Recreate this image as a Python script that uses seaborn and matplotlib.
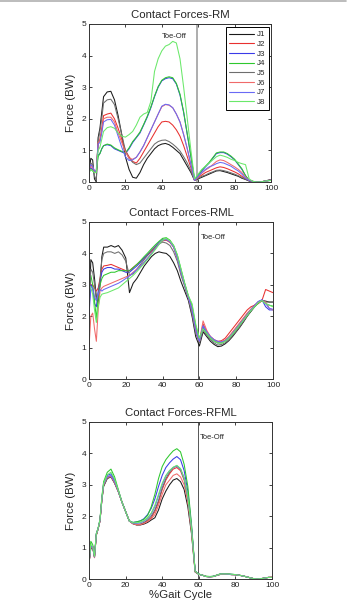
import numpy as np
import pandas as pd
import matplotlib.pyplot as plt
import seaborn as sns
from matplotlib.lines import Line2D

# % gait cycle sample positions (shared by every curve)
gait = [0, 1, 2, 3, 4, 5, 6, 7, 8,
        10, 12, 14, 16, 18, 20,
        22, 24, 26, 28, 30, 32, 34, 36, 38, 40,
        42, 44, 46, 48, 50, 52, 54, 56, 58, 60,
        62, 64, 66, 68, 70, 72, 74, 76, 78, 80,
        82, 84, 86, 88, 90, 92, 94, 96, 98, 100]

joints = ['J1', 'J2', 'J3', 'J4', 'J5', 'J6', 'J7', 'J8']
joint_colors = ['#1a1a1a', '#e8302f', '#3a3ae8', '#2ec82e',
                '#6e6e6e', '#f06a6a', '#6a6af5', '#6ae86a']

# ---- Contact Forces-RM ----
rm_j1 = [0.30, 0.75, 0.70, 0.10, 0.00, 1.40, 1.70, 2.20, 2.70,
         2.85, 2.87, 2.60, 2.10, 1.50, 0.80,
         0.40, 0.15, 0.12, 0.30, 0.55, 0.75, 0.90, 1.05, 1.15, 1.20,
         1.22, 1.18, 1.10, 1.00, 0.90, 0.70, 0.50, 0.30, 0.05, 0.10,
         0.15, 0.20, 0.25, 0.30, 0.35, 0.36, 0.33, 0.30, 0.26, 0.22,
         0.18, 0.12, 0.08, 0.03, 0.00, 0.00, 0.00, 0.02, 0.05, 0.08]
rm_j2 = [0.35, 0.55, 0.50, 0.30, 0.30, 1.20, 1.35, 1.70, 2.10,
         2.15, 2.18, 2.00, 1.70, 1.35, 1.00,
         0.80, 0.65, 0.60, 0.75, 0.95, 1.15, 1.35, 1.55, 1.75, 1.90,
         1.92, 1.90, 1.80, 1.65, 1.45, 1.15, 0.80, 0.45, 0.05, 0.15,
         0.22, 0.30, 0.35, 0.40, 0.45, 0.48, 0.46, 0.42, 0.37, 0.32,
         0.26, 0.18, 0.10, 0.05, 0.02, 0.00, 0.00, 0.02, 0.04, 0.06]
rm_j3 = [0.30, 0.45, 0.40, 0.30, 0.35, 0.85, 0.90, 1.05, 1.15,
         1.18, 1.15, 1.05, 1.00, 0.95, 0.90,
         1.05, 1.25, 1.40, 1.55, 1.80, 2.05, 2.35, 2.70, 3.00, 3.20,
         3.27, 3.30, 3.27, 3.10, 2.75, 2.20, 1.50, 0.80, 0.08, 0.20,
         0.35, 0.48, 0.60, 0.75, 0.90, 0.93, 0.93, 0.88, 0.80, 0.70,
         0.55, 0.40, 0.20, 0.05, 0.02, 0.00, 0.00, 0.02, 0.04, 0.05]
rm_j4 = [0.30, 0.40, 0.35, 0.30, 0.30, 0.80, 0.90, 1.05, 1.15,
         1.20, 1.17, 1.08, 1.02, 0.97, 0.92,
         1.08, 1.28, 1.42, 1.58, 1.82, 2.08, 2.38, 2.72, 3.02, 3.22,
         3.30, 3.33, 3.30, 3.12, 2.78, 2.22, 1.52, 0.82, 0.08, 0.22,
         0.38, 0.50, 0.62, 0.77, 0.92, 0.95, 0.95, 0.90, 0.82, 0.72,
         0.57, 0.42, 0.20, 0.05, 0.02, 0.00, 0.00, 0.02, 0.04, 0.05]
rm_j5 = [0.25, 0.60, 0.55, 0.20, 0.05, 1.30, 1.60, 2.00, 2.50,
         2.60, 2.62, 2.45, 2.00, 1.50, 1.00,
         0.75, 0.62, 0.55, 0.60, 0.75, 0.90, 1.05, 1.20, 1.28, 1.32,
         1.33, 1.28, 1.20, 1.10, 0.98, 0.80, 0.60, 0.35, 0.05, 0.12,
         0.18, 0.22, 0.28, 0.32, 0.37, 0.38, 0.36, 0.33, 0.29, 0.25,
         0.20, 0.14, 0.09, 0.04, 0.01, 0.00, 0.00, 0.02, 0.04, 0.07]
rm_j6 = [0.40, 0.50, 0.45, 0.35, 0.35, 1.25, 1.30, 1.60, 2.00,
         2.05, 2.05, 1.90, 1.55, 1.25, 0.95,
         0.75, 0.72, 0.78, 0.95, 1.15, 1.40, 1.65, 1.90, 2.15, 2.38,
         2.45, 2.43, 2.35, 2.15, 1.90, 1.50, 1.05, 0.55, 0.05, 0.15,
         0.28, 0.38, 0.45, 0.55, 0.65, 0.70, 0.68, 0.62, 0.55, 0.48,
         0.40, 0.30, 0.15, 0.05, 0.02, 0.00, 0.00, 0.02, 0.04, 0.06]
rm_j7 = [0.40, 0.55, 0.50, 0.35, 0.35, 1.20, 1.25, 1.55, 1.90,
         1.97, 1.98, 1.80, 1.45, 1.10, 0.80,
         0.68, 0.70, 0.78, 0.95, 1.15, 1.40, 1.65, 1.90, 2.15, 2.40,
         2.46, 2.44, 2.35, 2.15, 1.90, 1.50, 1.05, 0.55, 0.05, 0.18,
         0.30, 0.40, 0.48, 0.52, 0.58, 0.62, 0.60, 0.55, 0.50, 0.42,
         0.35, 0.25, 0.12, 0.05, 0.02, 0.00, 0.00, 0.02, 0.04, 0.06]
rm_j8 = [0.30, 0.40, 0.35, 0.30, 0.30, 1.00, 1.10, 1.35, 1.60,
         1.72, 1.75, 1.70, 1.55, 1.45, 1.42,
         1.50, 1.60, 1.80, 2.05, 2.15, 2.20, 2.55, 3.50, 3.90, 4.15,
         4.30, 4.35, 4.45, 4.40, 3.90, 3.00, 2.00, 1.00, 0.10, 0.25,
         0.40, 0.50, 0.60, 0.70, 0.80, 0.85, 0.82, 0.78, 0.72, 0.68,
         0.62, 0.58, 0.55, 0.10, 0.02, 0.00, 0.00, 0.02, 0.04, 0.05]

# ---- Contact Forces-RML ----
rml_j1 = [2.00, 3.80, 3.70, 3.20, 2.60, 2.40, 3.00, 3.90, 4.20,
          4.20, 4.25, 4.20, 4.25, 4.10, 3.85,
          2.75, 3.05, 3.20, 3.40, 3.60, 3.75, 3.90, 4.00, 4.05, 4.02,
          4.00, 3.90, 3.70, 3.45, 3.10, 2.80, 2.50, 2.00, 1.35, 1.05,
          1.50, 1.35, 1.20, 1.10, 1.03, 1.05, 1.12, 1.22, 1.35, 1.50,
          1.65, 1.82, 2.00, 2.15, 2.30, 2.42, 2.50, 2.48, 2.45, 2.45]
rml_j2 = [2.80, 3.00, 3.00, 2.90, 2.80, 2.90, 3.20, 3.50, 3.60,
          3.62, 3.65, 3.60, 3.55, 3.50, 3.45,
          3.45, 3.55, 3.65, 3.75, 3.85, 3.95, 4.05, 4.20, 4.30, 4.40,
          4.42, 4.35, 4.20, 3.85, 3.40, 3.00, 2.60, 2.20, 1.60, 1.20,
          1.75, 1.50, 1.35, 1.25, 1.20, 1.22, 1.30, 1.45, 1.60, 1.75,
          1.90, 2.05, 2.20, 2.30, 2.35, 2.40, 2.50, 2.85, 2.80, 2.75]
rml_j3 = [2.00, 3.00, 2.90, 2.40, 2.30, 2.80, 3.10, 3.40, 3.50,
          3.55, 3.55, 3.50, 3.50, 3.45, 3.40,
          3.40, 3.50, 3.60, 3.72, 3.85, 3.97, 4.10, 4.22, 4.35, 4.45,
          4.45, 4.38, 4.22, 3.88, 3.42, 3.00, 2.60, 2.20, 1.55, 1.25,
          1.65, 1.45, 1.30, 1.20, 1.15, 1.17, 1.22, 1.33, 1.47, 1.62,
          1.77, 1.92, 2.08, 2.22, 2.35, 2.47, 2.52, 2.30, 2.20, 2.20]
rml_j4 = [3.35, 3.30, 3.00, 2.50, 1.90, 2.60, 3.00, 3.20, 3.30,
          3.35, 3.40, 3.40, 3.45, 3.45, 3.45,
          3.45, 3.55, 3.65, 3.77, 3.90, 4.02, 4.15, 4.27, 4.38, 4.48,
          4.50, 4.42, 4.25, 3.95, 3.50, 3.05, 2.65, 2.35, 1.70, 1.30,
          1.60, 1.45, 1.30, 1.22, 1.15, 1.15, 1.20, 1.30, 1.42, 1.57,
          1.72, 1.87, 2.02, 2.17, 2.30, 2.42, 2.50, 2.40, 2.35, 2.32]
rml_j5 = [2.50, 3.50, 3.40, 3.00, 2.50, 2.70, 3.20, 3.80, 4.00,
          4.05, 4.05, 4.00, 4.05, 3.95, 3.75,
          3.30, 3.35, 3.50, 3.65, 3.80, 3.95, 4.10, 4.20, 4.30, 4.36,
          4.33, 4.25, 4.05, 3.75, 3.30, 2.95, 2.55, 2.05, 1.45, 1.15,
          1.55, 1.40, 1.25, 1.15, 1.08, 1.10, 1.15, 1.25, 1.38, 1.52,
          1.67, 1.84, 2.02, 2.18, 2.32, 2.45, 2.50, 2.45, 2.45, 2.45]
rml_j6 = [1.00, 2.00, 2.10, 1.60, 1.20, 2.20, 2.80, 2.90, 2.95,
          3.00, 3.05, 3.10, 3.15, 3.20, 3.25,
          3.30, 3.40, 3.50, 3.60, 3.72, 3.85, 4.00, 4.15, 4.30, 4.42,
          4.45, 4.38, 4.20, 3.85, 3.40, 3.00, 2.60, 2.20, 1.55, 1.20,
          1.85, 1.55, 1.35, 1.25, 1.18, 1.18, 1.25, 1.35, 1.50, 1.65,
          1.80, 1.95, 2.10, 2.22, 2.35, 2.45, 2.50, 2.45, 2.25, 2.20]
rml_j7 = [2.50, 2.95, 2.90, 2.60, 2.50, 2.70, 2.85, 2.80, 2.85,
          2.90, 2.95, 3.00, 3.05, 3.12, 3.20,
          3.28, 3.38, 3.48, 3.60, 3.72, 3.86, 4.00, 4.15, 4.30, 4.42,
          4.44, 4.37, 4.20, 3.86, 3.40, 3.00, 2.60, 2.20, 1.55, 1.20,
          1.70, 1.50, 1.35, 1.25, 1.20, 1.18, 1.22, 1.32, 1.45, 1.60,
          1.75, 1.90, 2.05, 2.20, 2.33, 2.45, 2.52, 2.40, 2.25, 2.22]
rml_j8 = [3.00, 2.90, 2.70, 2.20, 1.80, 2.30, 2.60, 2.70, 2.72,
          2.75, 2.80, 2.85, 2.90, 3.00, 3.10,
          3.20, 3.30, 3.42, 3.55, 3.68, 3.82, 3.97, 4.12, 4.28, 4.42,
          4.48, 4.40, 4.25, 3.95, 3.50, 3.05, 2.65, 2.40, 1.75, 1.30,
          1.60, 1.45, 1.30, 1.20, 1.15, 1.14, 1.20, 1.30, 1.43, 1.58,
          1.73, 1.88, 2.03, 2.18, 2.30, 2.43, 2.50, 2.40, 2.35, 2.30]

# ---- Contact Forces-RFML ----
rfml_j1 = [0.50, 1.00, 1.00, 0.70, 1.40, 1.60, 1.85, 2.50, 2.95,
           3.20, 3.25, 3.05, 2.78, 2.45, 2.15,
           1.85, 1.76, 1.72, 1.72, 1.75, 1.80, 1.88, 1.95, 2.20, 2.55,
           2.80, 3.00, 3.15, 3.20, 3.10, 2.85, 2.30, 1.45, 0.22, 0.15,
           0.12, 0.08, 0.07, 0.08, 0.12, 0.15, 0.15, 0.15, 0.14, 0.14,
           0.12, 0.10, 0.07, 0.04, 0.01, 0.00, 0.01, 0.03, 0.05, 0.05]
rfml_j2 = [0.50, 1.00, 1.05, 0.68, 1.40, 1.60, 1.85, 2.50, 3.00,
           3.25, 3.28, 3.08, 2.80, 2.45, 2.15,
           1.85, 1.77, 1.73, 1.74, 1.78, 1.85, 1.95, 2.15, 2.45, 2.85,
           3.15, 3.35, 3.50, 3.55, 3.45, 3.15, 2.55, 1.60, 0.25, 0.15,
           0.12, 0.08, 0.07, 0.08, 0.12, 0.16, 0.16, 0.15, 0.14, 0.14,
           0.12, 0.10, 0.07, 0.04, 0.01, 0.00, 0.01, 0.03, 0.05, 0.06]
rfml_j3 = [0.55, 1.05, 1.05, 0.72, 1.45, 1.62, 1.88, 2.55, 3.05,
           3.30, 3.35, 3.15, 2.82, 2.45, 2.15,
           1.85, 1.80, 1.82, 1.85, 1.92, 2.05, 2.25, 2.55, 2.95, 3.30,
           3.55, 3.70, 3.82, 3.90, 3.80, 3.45, 2.80, 1.70, 0.25, 0.15,
           0.12, 0.08, 0.07, 0.09, 0.12, 0.16, 0.16, 0.16, 0.15, 0.14,
           0.12, 0.10, 0.07, 0.04, 0.01, 0.00, 0.01, 0.03, 0.05, 0.05]
rfml_j4 = [0.55, 1.20, 1.10, 0.72, 1.45, 1.62, 1.90, 2.60, 3.10,
           3.40, 3.50, 3.25, 2.85, 2.45, 2.15,
           1.85, 1.80, 1.82, 1.85, 1.90, 2.02, 2.30, 2.70, 3.20, 3.58,
           3.80, 3.95, 4.08, 4.15, 4.05, 3.65, 2.95, 1.75, 0.25, 0.16,
           0.12, 0.09, 0.08, 0.09, 0.13, 0.17, 0.17, 0.16, 0.15, 0.14,
           0.12, 0.10, 0.07, 0.04, 0.01, 0.00, 0.01, 0.03, 0.05, 0.05]
rfml_j5 = [0.50, 1.00, 1.02, 0.70, 1.40, 1.60, 1.85, 2.50, 2.98,
           3.22, 3.26, 3.06, 2.79, 2.45, 2.15,
           1.85, 1.77, 1.74, 1.75, 1.80, 1.88, 2.00, 2.20, 2.50, 2.90,
           3.20, 3.40, 3.55, 3.60, 3.50, 3.20, 2.60, 1.60, 0.24, 0.15,
           0.12, 0.08, 0.07, 0.08, 0.12, 0.15, 0.15, 0.15, 0.14, 0.13,
           0.12, 0.10, 0.07, 0.04, 0.01, 0.00, 0.01, 0.03, 0.05, 0.05]
rfml_j6 = [0.50, 1.00, 1.05, 0.68, 1.40, 1.60, 1.85, 2.50, 3.00,
           3.24, 3.27, 3.07, 2.80, 2.45, 2.15,
           1.85, 1.76, 1.73, 1.73, 1.77, 1.83, 1.92, 2.05, 2.35, 2.70,
           3.00, 3.15, 3.30, 3.35, 3.25, 3.00, 2.45, 1.50, 0.23, 0.15,
           0.12, 0.08, 0.07, 0.08, 0.12, 0.15, 0.15, 0.15, 0.14, 0.14,
           0.12, 0.10, 0.07, 0.04, 0.01, 0.00, 0.01, 0.03, 0.05, 0.06]
rfml_j7 = [0.52, 1.02, 1.04, 0.70, 1.42, 1.61, 1.86, 2.52, 3.02,
           3.26, 3.30, 3.10, 2.81, 2.45, 2.15,
           1.85, 1.78, 1.77, 1.79, 1.84, 1.93, 2.07, 2.30, 2.65, 3.00,
           3.28, 3.45, 3.55, 3.60, 3.50, 3.20, 2.60, 1.62, 0.25, 0.15,
           0.12, 0.08, 0.07, 0.08, 0.12, 0.16, 0.16, 0.15, 0.14, 0.14,
           0.12, 0.10, 0.07, 0.04, 0.01, 0.00, 0.01, 0.03, 0.05, 0.05]
rfml_j8 = [0.52, 1.10, 1.06, 0.72, 1.43, 1.62, 1.88, 2.55, 3.05,
           3.32, 3.40, 3.18, 2.83, 2.45, 2.15,
           1.85, 1.79, 1.79, 1.81, 1.86, 1.95, 2.10, 2.35, 2.70, 3.05,
           3.30, 3.45, 3.56, 3.62, 3.52, 3.22, 2.62, 1.62, 0.25, 0.15,
           0.12, 0.08, 0.07, 0.08, 0.12, 0.16, 0.16, 0.16, 0.15, 0.14,
           0.12, 0.10, 0.07, 0.04, 0.01, 0.00, 0.01, 0.03, 0.05, 0.05]

panel_titles = ['Contact Forces-RM', 'Contact Forces-RML', 'Contact Forces-RFML']
panel_series = [
    [rm_j1, rm_j2, rm_j3, rm_j4, rm_j5, rm_j6, rm_j7, rm_j8],
    [rml_j1, rml_j2, rml_j3, rml_j4, rml_j5, rml_j6, rml_j7, rml_j8],
    [rfml_j1, rfml_j2, rfml_j3, rfml_j4, rfml_j5, rfml_j6, rfml_j7, rfml_j8],
]
toe_off = 59.5
x_ticks = [0, 20, 40, 60, 80, 100]
y_ticks = [0, 1, 2, 3, 4, 5]

sns.set_style('ticks')
plt.rcParams['font.family'] = ['Liberation Sans', 'DejaVu Sans']
plt.rcParams['xtick.direction'] = 'in'
plt.rcParams['ytick.direction'] = 'in'

fig = plt.figure(figsize=(3.51, 6.06), dpi=100)
axes_rects = [
    [89 / 351, 1 - 182 / 606, 182 / 351, 158 / 606],
    [89 / 351, 1 - 379 / 606, 184 / 351, 157 / 606],
    [89 / 351, 1 - 579 / 606, 183 / 351, 157 / 606],
]

palette = dict(zip(joints, joint_colors))

for i, (title, series) in enumerate(zip(panel_titles, panel_series)):
    ax = fig.add_axes(axes_rects[i])
    df = pd.DataFrame({
        'gait': gait * len(joints),
        'force': np.concatenate(series),
        'joint': np.repeat(joints, len(gait)),
    })
    sns.lineplot(data=df, x='gait', y='force', hue='joint', palette=palette,
                 estimator=None, sort=False, linewidth=0.75, ax=ax,
                 legend=False)

    if i == 0:
        ax.axvline(toe_off, color='#a0a0a0', lw=1.2, zorder=1)
        ax.text(53.5, 4.62, 'Toe-Off', fontsize=5.5, ha='right', va='center')
        handles = [Line2D([], [], color=c, lw=0.8) for c in joint_colors]
        leg = ax.legend(handles, joints, loc='upper right',
                        bbox_to_anchor=(0.995, 0.985), frameon=True,
                        fancybox=False, fontsize=5.8, handlelength=3.1,
                        labelspacing=0.25, borderpad=0.45,
                        handletextpad=0.35, borderaxespad=0.1)
        leg.get_frame().set_edgecolor('black')
        leg.get_frame().set_linewidth(0.7)
        leg.get_frame().set_alpha(1)
    else:
        ax.axvline(toe_off, color='#555555', lw=0.7, zorder=1)
        ax.text(toe_off + 1.0, 4.5, 'Toe-Off', fontsize=5.5, ha='left', va='center')

    ax.set_xlim(0, 100)
    ax.set_ylim(0, 5)
    ax.set_xticks(x_ticks)
    ax.set_yticks(y_ticks)
    ax.tick_params(top=True, right=True, labelsize=6, length=2.5, width=0.6,
                   pad=2, colors='#222222')
    for sp in ax.spines.values():
        sp.set_color('#333333')
        sp.set_linewidth(0.7)
    ax.set_title(title, fontsize=8.2, pad=4)
    ax.set_ylabel('Force (BW)', fontsize=8.2, labelpad=4)
    if i == 2:
        ax.set_xlabel('%Gait Cycle', fontsize=8.2, labelpad=1)
    else:
        ax.set_xlabel('')

# thin frame line along the top edge of the image
fig.add_artist(Line2D([0.0, 0.985], [0.998, 0.998], transform=fig.transFigure,
                      color='#b0b0b0', lw=1.2))

fig.savefig('out.png', dpi=100)
